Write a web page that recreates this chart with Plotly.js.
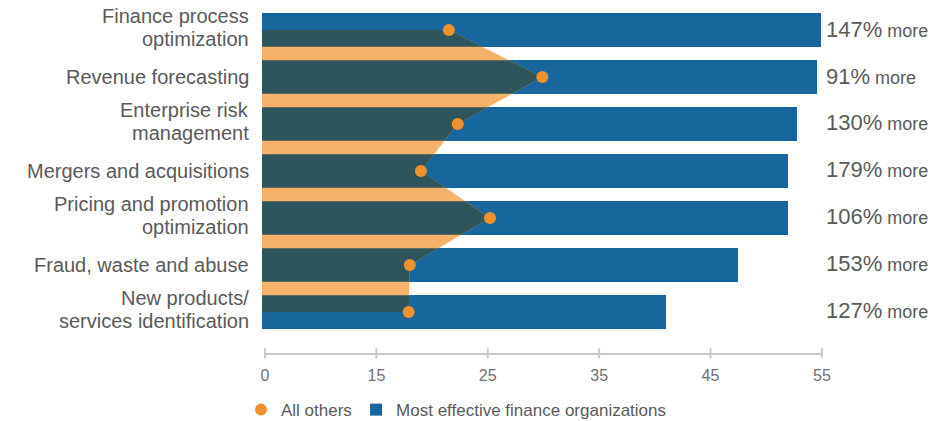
<!DOCTYPE html>
<html><head><meta charset="utf-8">
<script src="https://cdn.plot.ly/plotly-3.0.1.min.js"></script>
<style>html,body{margin:0;padding:0;background:#fff}#chart{width:948px;height:421px}</style>
</head><body><div id="chart"></div>
<script>
// ---- data ----
const categories = ["Finance process\noptimization", "Revenue forecasting", "Enterprise risk\nmanagement",
  "Mergers and acquisitions", "Pricing and promotion\noptimization", "Fraud, waste and abuse",
  "New products/\nservices identification"];
const mostEffective = [54.9, 54.55, 52.8, 52.0, 52.0, 47.5, 41.0];
const allOthers = [21.5, 29.9, 22.3, 19.0, 25.2, 18.0, 17.9];
const pctMore = [147, 91, 130, 179, 106, 153, 127];
const tickVals = [5, 15, 25, 35, 45, 55];
const tickText = ["0", "15", "25", "35", "45", "55"];

// ---- styling ----
const BLUE = "#17669e", DARK = "#2e555c", ORANGE_FILL = "#f6b26b", ORANGE = "#f1912b";
const TXT = "#5a5a5a", AXIS = "#c8c8c8";
const FONT = "Liberation Sans, Arial, sans-serif";
const XMIN = 4.73, XMAX = 55.1;
const BW = 0.717;
const n = categories.length;
const idx = categories.map((_, i) => i);

// boundary of the "All others" area: linear between dots
function f(y) {
  if (y <= 0) return allOthers[0];
  if (y >= n - 1) return allOthers[n - 1];
  const k = Math.floor(y), t = y - k;
  return allOthers[k] + (allOthers[k + 1] - allOthers[k]) * t;
}

// orange polygon
const polyX = [XMIN].concat(allOthers, [XMIN, XMIN]);
const polyY = [0].concat(idx, [n - 1, 0]);

// dark overlap polygons (area ∩ bars)
const darkX = [], darkY = [];
idx.forEach(i => {
  const ya = Math.max(0, i - BW / 2), yb = Math.min(n - 1, i + BW / 2);
  const xs = [XMIN, f(ya)], ys = [ya, ya];
  if (i > ya && i < yb) { xs.push(allOthers[i]); ys.push(i); }
  xs.push(f(yb), XMIN, XMIN); ys.push(yb, yb, ya);
  darkX.push(...xs, null); darkY.push(...ys, null);
});

const traces = [
  { type: "bar", orientation: "h", y: idx, x: mostEffective.map(v => v - XMIN), base: XMIN,
    width: BW, marker: { color: BLUE, line: { width: 0 } }, name: "Most effective finance organizations",
    legend: "legend2", hoverinfo: "skip" },
  { type: "scatter", mode: "lines", x: polyX, y: polyY, fill: "toself", fillcolor: ORANGE_FILL,
    line: { width: 0 }, showlegend: false, hoverinfo: "skip" },
  { type: "scatter", mode: "lines", x: darkX, y: darkY, fill: "toself", fillcolor: DARK,
    line: { width: 0 }, showlegend: false, hoverinfo: "skip", connectgaps: false },
  { type: "scatter", mode: "markers", x: allOthers, y: idx, name: "All others", legend: "legend",
    marker: { color: ORANGE, size: 12, line: { width: 0 } }, cliponaxis: false }
];

const annotations = [];
idx.forEach(i => {
  const lines = categories[i].split("\n");
  const LH = 22.5;
  const off = lines.length > 1 ? 2.5 : 0;
  lines.forEach((ln, j) => {
    annotations.push({ xref: "paper", yref: "y", x: 0, y: i, xanchor: "right", yanchor: "middle",
      xshift: -11, yshift: off + ((lines.length - 1) / 2 - j) * LH, text: ln, showarrow: false,
      font: { family: FONT, size: 20, color: TXT } });
  });
  annotations.push({ xref: "paper", yref: "y", x: 1, y: i, xanchor: "left", yanchor: "middle",
    xshift: 1, yshift: 1, showarrow: false,
    text: '<span style="font-size:22px">' + pctMore[i] + '%</span> more',
    font: { family: FONT, size: 18, color: TXT } });
});

const shapes = [{ type: "line", xref: "x", yref: "paper", x0: tickVals[0], x1: tickVals[tickVals.length - 1],
  y0: 0, y1: 0, line: { color: AXIS, width: 2 } }];
tickVals.forEach(v => shapes.push({ type: "line", xref: "x", yref: "paper", x0: v, x1: v,
  y0: 0.0166, y1: -0.0125, line: { color: AXIS, width: 2 } }));

const legendBase = { orientation: "h", xanchor: "left", y: -0.163, yanchor: "middle", bgcolor: "rgba(0,0,0,0)",
  font: { family: FONT, size: 17, color: TXT } };
const layout = {
  width: 948, height: 421, margin: { l: 262, r: 125.4, t: 10, b: 67, autoexpand: false },
  paper_bgcolor: "#fff", plot_bgcolor: "#fff",
  xaxis: { range: [XMIN, XMAX], tickvals: tickVals, ticktext: tickText, showgrid: false, zeroline: false,
    showline: false, ticks: "", ticklabelstandoff: 10, tickfont: { family: FONT, size: 16, color: "#707070" },
    fixedrange: true },
  yaxis: { range: [6.894, -0.4255], showticklabels: false, showgrid: false, zeroline: false, fixedrange: true },
  showlegend: true,
  legend: Object.assign({ x: -0.0375 }, legendBase),
  legend2: Object.assign({ x: 0.1677 }, legendBase),
  annotations, shapes, bargap: 0
};
Plotly.newPlot("chart", traces, layout, { displayModeBar: false, staticPlot: true });
</script></body></html>
